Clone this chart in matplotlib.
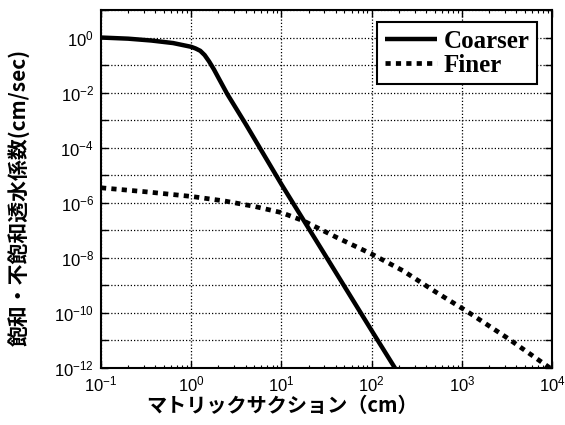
import matplotlib
matplotlib.use('Agg')
import matplotlib.pyplot as plt

plt.rcParams['font.family'] = ['Liberation Sans', 'DejaVu Sans']
plt.rcParams['mathtext.default'] = 'regular'

# Data (matric suction in cm, conductivity in cm/sec)
coarser_x = [0.1, 0.2, 0.36, 0.63, 1.0, 1.12, 1.26, 1.41, 1.58, 1.78, 2.0, 2.51, 3.98,
             10, 31.6, 100, 200]
coarser_y = [1.0, 0.91, 0.78, 0.63, 0.46, 0.40, 0.33, 0.23, 0.135, 0.071, 0.035, 8.9e-3,
             7.6e-4, 4.7e-6, 1.05e-8, 2.3e-11, 6.0e-13]

finer_x = [0.1, 0.316, 1.0, 2.31, 5.0, 10, 17.6, 41.1, 100, 223, 521, 1114, 3162, 10000]
finer_y = [3.5e-6, 2.5e-6, 1.7e-6, 1.17e-6, 7.4e-7, 4.4e-7, 2.2e-7, 5.5e-8, 1.38e-8,
           3.4e-9, 5.6e-10, 1.2e-10, 1.26e-11, 8.9e-13]

x_ticks = [0.1, 1, 10, 100, 1000, 10000]
x_labels = ['10$^{-1}$', '10$^{0}$', '10$^{1}$', '10$^{2}$', '10$^{3}$', '10$^{4}$']
y_exps = list(range(-12, 2))
y_ticks = [10.0 ** e for e in y_exps]
y_labels = ['10$^{%d}$' % e if e % 2 == 0 and e <= 0 else '' for e in y_exps]

fig = plt.figure(figsize=(5.65, 4.25), dpi=100)
ax = fig.add_axes([101 / 565, 1 - 368 / 425, 451 / 565, 358 / 425])

ax.plot(coarser_x, coarser_y, color='black', lw=3.2, solid_capstyle='butt',
        solid_joinstyle='round', label='Coarser')
ax.plot(finer_x, finer_y, color='black', lw=3.4, linestyle=(0, (1.1, 1.1)),
        dash_capstyle='butt', label='Finer')

ax.set_xscale('log')
ax.set_yscale('log')
ax.set_xlim(0.1, 1e4)
ax.set_ylim(1e-12, 1e1)
ax.set_xticks(x_ticks)
ax.set_xticklabels(x_labels, fontsize=12)
ax.set_yticks(y_ticks)
ax.set_yticklabels(y_labels, fontsize=12)

ax.tick_params(which='both', direction='in', top=True, right=True, color='black')
ax.tick_params(which='major', length=5, width=1.0, pad=5)
ax.tick_params(which='minor', length=2.5, width=0.8)
for s in ax.spines.values():
    s.set_linewidth(1.5)
    s.set_color('black')

ax.grid(True, which='major', color='black', lw=0.9, linestyle=(0, (1, 1.6)))
ax.grid(False, which='minor')

leg = ax.legend(loc='upper right', bbox_to_anchor=(0.967, 0.966), borderaxespad=0,
                prop={'family': 'Liberation Serif', 'size': 18, 'weight': 'bold'},
                frameon=True, fancybox=False, framealpha=1, edgecolor='black',
                handlelength=2.1, handletextpad=0.25, labelspacing=0.05, borderpad=0.3)
leg.get_frame().set_linewidth(1.5)

cjk = ['Noto Sans CJK JP', 'DejaVu Sans']
fig.text(282 / 565, 1 - 405 / 425, 'マトリックサクション（cm）', ha='center', va='center',
         fontsize=14.5, fontweight='bold', family=cjk)
fig.text(20 / 565, 1 - 197 / 425, '飽和・不飽和透水係数(cm/sec)', ha='center', va='center',
         rotation=90, fontsize=15, fontweight='bold', family=cjk)

fig.savefig('out.png', dpi=100)
